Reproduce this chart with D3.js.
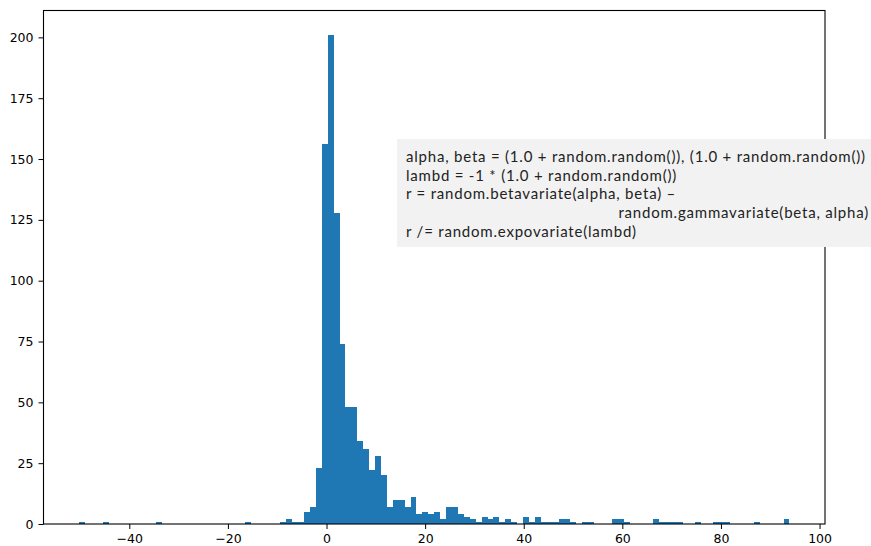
<!DOCTYPE html>
<html>
<head>
	<meta charset="UTF-8" />
	<title>histogram of r</title>
	<script src="https://d3js.org/d3.v7.min.js"></script>
	<style>
		body { margin: 0; background: #fff; }
	</style>
</head>
<body>
	<svg id="chart"></svg>

	<script type="text/javascript">
	// histogram range + counts per bin (120 bins)
	const dataMin = -50.2
	const dataMax = 93.9
	const counts = [
		1, 0, 0, 0, 1, 0, 0, 0, 0, 0,
		0, 0, 0, 1, 0, 0, 0, 0, 0, 0,
		0, 0, 0, 0, 0, 0, 0, 0, 1, 0,
		0, 0, 0, 0, 1, 2, 1, 1, 5, 7,
		23, 156, 201, 128, 74, 48, 48, 34, 31, 22,
		28, 20, 7, 10, 10, 7, 11, 4, 5, 4,
		5, 2, 7, 7, 4, 3, 2, 1, 3, 2,
		3, 1, 2, 1, 0, 3, 1, 3, 1, 1,
		1, 2, 2, 1, 0, 1, 1, 0, 0, 0,
		2, 2, 1, 0, 0, 0, 0, 2, 1, 1,
		1, 1, 0, 0, 1, 0, 0, 1, 1, 1,
		0, 0, 0, 0, 1, 0, 0, 0, 0, 2
	]
	const xTicks = [-40, -20, 0, 20, 40, 60, 80, 100]
	const yTicks = [0, 25, 50, 75, 100, 125, 150, 175, 200]
	const noteLines = [
		"alpha, beta = (1.0 + random.random()), (1.0 + random.random())",
		"lambd = -1 * (1.0 + random.random())",
		"r = random.betavariate(alpha, beta) \u2013",
		"random.gammavariate(beta, alpha)",
		"r /= random.expovariate(lambd)"
	]

	const blue = "#1f77b4"
	const W = 871, H = 546
	const margin = {left: 43.5, top: 10.5, right: 46, bottom: 22}
	const innerW = W - margin.left - margin.right
	const innerH = H - margin.top - margin.bottom

	const svg = d3.select("#chart")
		.attr("width", W)
		.attr("height", H)
		.style("font-family", "DejaVu Sans")

	const g = svg.append("g")
		.attr("transform", "translate(" + margin.left + "," + margin.top + ")")

	// matplotlib style 5% padding on x
	const span = dataMax - dataMin
	const binW = span / counts.length
	const xScale = d3.scaleLinear()
		.domain([dataMin - 0.05 * span, dataMax + 0.05 * span])
		.range([0, innerW])
	const yScale = d3.scaleLinear()
		.domain([0, d3.max(counts) * 1.05])
		.range([innerH, 0])

	const bins = counts.map((c, i) => ({c: c, x0: dataMin + i * binW, x1: dataMin + (i + 1) * binW}))

	g.selectAll(".bar")
		.data(bins.filter(d => d.c > 0))
		.enter()
		.append("rect")
		.attr("class", "bar")
		.attr("x", d => xScale(d.x0))
		.attr("width", d => xScale(d.x1) - xScale(d.x0))
		.attr("y", d => yScale(d.c))
		.attr("height", d => yScale(0) - yScale(d.c))
		.attr("fill", blue)
		.attr("shape-rendering", "crispEdges")

	// axes
	const xAxis = d3.axisBottom(xScale).tickValues(xTicks).tickSize(5).tickPadding(5)
	const yAxis = d3.axisLeft(yScale).tickValues(yTicks).tickSize(5).tickPadding(5)

	const gx = g.append("g")
		.attr("transform", "translate(0," + innerH + ")")
		.call(xAxis)
	const gy = g.append("g").call(yAxis)

	;[gx, gy].forEach(a => {
		a.select(".domain").remove()
		a.selectAll("text")
			.style("font-family", "DejaVu Sans")
			.style("font-size", "12.5px")
			.attr("fill", "#000")
		a.selectAll("line").attr("stroke", "#000").attr("stroke-width", 1)
	})

	// spines
	g.append("rect")
		.attr("x", 0)
		.attr("y", 0)
		.attr("width", innerW)
		.attr("height", innerH)
		.attr("fill", "none")
		.attr("stroke", "#000")
		.attr("stroke-width", 1.1)

	// text box with the code
	const box = svg.append("g")
	box.append("rect")
		.attr("x", 397)
		.attr("y", 139)
		.attr("width", 480)
		.attr("height", 108)
		.attr("fill", "#f2f2f2")

	const txt = box.selectAll(".note")
		.data(noteLines)
		.enter()
		.append("text")
		.attr("class", "note")
		.attr("x", (d, i) => i == 3 ? 869 : 406)
		.attr("y", (d, i) => 162 + i * 18.7)
		.attr("text-anchor", (d, i) => i == 3 ? "end" : "start")
		.style("font-family", "Lato")
		.style("font-size", "15px")
		.attr("fill", "#222")
		.text(d => d)

	// stretch the letter spacing a bit so the first line spans the same width
	const len0 = txt.nodes()[0].getComputedTextLength()
	const extra = (459 - len0) / (noteLines[0].length - 1)
	txt.style("letter-spacing", extra + "px")
	</script>
</body>
</html>
